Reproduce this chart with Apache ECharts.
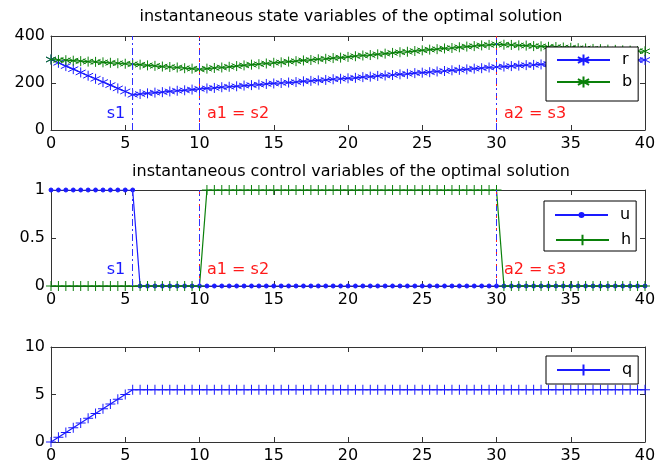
<!DOCTYPE html>
<html><head><meta charset="utf-8">
<script src="https://cdn.jsdelivr.net/npm/echarts@6/dist/echarts.min.js"></script>
<style>html,body{margin:0;background:#fff}#c{width:664px;height:470px}</style>
</head><body><div id="c"></div>
<script>
// ---- data ----
const t = [0,0.5,1,1.5,2,2.5,3,3.5,4,4.5,5,5.5,6,6.5,7,7.5,8,8.5,9,9.5,
  10,10.5,11,11.5,12,12.5,13,13.5,14,14.5,15,15.5,16,16.5,17,17.5,18,18.5,19,19.5,
  20,20.5,21,21.5,22,22.5,23,23.5,24,24.5,25,25.5,26,26.5,27,27.5,28,28.5,29,29.5,
  30,30.5,31,31.5,32,32.5,33,33.5,34,34.5,35,35.5,36,36.5,37,37.5,38,38.5,39,39.5,40];
const r = [300,286,272,259,245,231,218,204,191,177,164,150,153,156,159,161,164,167,169,172,
  175,177,179,182,184,186,189,191,193,196,198,200,202,204,207,209,211,213,216,218,
  220,222,225,227,230,232,234,237,239,242,244,246,249,251,254,256,258,261,263,266,
  268,270,272,274,276,277,279,281,282,284,285,287,288,290,291,292,294,295,296,297,298];
const b = [300,298,297,295,293,291,290,288,286,284,282,280,278,275,273,270,268,266,263,261,
  258,261,264,266,269,272,275,278,280,283,286,288,291,293,296,298,301,303,306,308,
  311,314,317,319,322,325,328,331,333,336,339,342,344,347,349,352,355,357,360,362,
  365,363,362,360,359,357,356,354,353,351,350,348,347,345,344,342,341,339,338,336,335];
const u = [1,1,1,1,1,1,1,1,1,1,1,1,0,0,0,0,0,0,0,0,
  0,0,0,0,0,0,0,0,0,0,0,0,0,0,0,0,0,0,0,0,
  0,0,0,0,0,0,0,0,0,0,0,0,0,0,0,0,0,0,0,0,
  0,0,0,0,0,0,0,0,0,0,0,0,0,0,0,0,0,0,0,0,0];
const h = [0,0,0,0,0,0,0,0,0,0,0,0,0,0,0,0,0,0,0,0,
  0,1,1,1,1,1,1,1,1,1,1,1,1,1,1,1,1,1,1,1,
  1,1,1,1,1,1,1,1,1,1,1,1,1,1,1,1,1,1,1,1,
  1,0,0,0,0,0,0,0,0,0,0,0,0,0,0,0,0,0,0,0,0];
const q = [0,0.5,1,1.5,2,2.5,3,3.5,4,4.5,5,5.5,5.5,5.5,5.5,5.5,5.5,5.5,5.5,5.5,
  5.5,5.5,5.5,5.5,5.5,5.5,5.5,5.5,5.5,5.5,5.5,5.5,5.5,5.5,5.5,5.5,5.5,5.5,5.5,5.5,
  5.5,5.5,5.5,5.5,5.5,5.5,5.5,5.5,5.5,5.5,5.5,5.5,5.5,5.5,5.5,5.5,5.5,5.5,5.5,5.5,
  5.5,5.5,5.5,5.5,5.5,5.5,5.5,5.5,5.5,5.5,5.5,5.5,5.5,5.5,5.5,5.5,5.5,5.5,5.5,5.5,5.5];
const eventT = [5.5, 10, 30];
const eventLabels = ['s1', 'a1 = s2', 'a2 = s3'];
const eventLabelColors = ['#1a1aff', '#ff1a1a', '#ff1a1a'];
const redOverlayT = [10, 30];
const titles = ['instantaneous state variables of the optimal solution',
                'instantaneous control variables of the optimal solution'];
const xTicks = {min: 0, max: 40, interval: 5};
const yTicks = [{min: 0, max: 400, interval: 200}, {min: 0, max: 1, interval: 0.5}, {min: 0, max: 10, interval: 5}];

// ---- chart ----
const FONT = 'DejaVu Sans';
const BLUE = '#1a1aff', GREEN = '#0a800a';
const AST = 'path://M0,-1L0,1M-0.866,-0.5L0.866,0.5M-0.866,0.5L0.866,-0.5';
const PLUS = 'path://M0,-1L0,1M-1,0L1,0';
const pts = ys => t.map((x, i) => [x, ys[i]]);

const grids = [
  {left: 51, right: 19, top: 36, height: 94},
  {left: 51, right: 19, top: 190, height: 96},
  {left: 51, right: 19, top: 347, height: 95}
];
const axisLine = {show: true, onZero: false, lineStyle: {color: '#333', width: 1}};
const axisTick = {show: true, inside: true, length: 5, lineStyle: {color: '#333'}};
const xAxes = [], yAxes = [];
grids.forEach((g, gi) => {
  xAxes.push({type: 'value', gridIndex: gi, position: 'bottom', ...xTicks, axisLine, axisTick,
    axisLabel: {color: '#000', fontSize: 16, fontFamily: FONT, margin: 6}, splitLine: {show: false}});
  xAxes.push({type: 'value', gridIndex: gi, position: 'top', ...xTicks, axisLine, axisTick,
    axisLabel: {show: false}, splitLine: {show: false}});
  yAxes.push({type: 'value', gridIndex: gi, position: 'left', ...yTicks[gi], axisLine, axisTick,
    axisLabel: {color: '#000', fontSize: 16, fontFamily: FONT, margin: 6}, splitLine: {show: false}});
  yAxes.push({type: 'value', gridIndex: gi, position: 'right', ...yTicks[gi], axisLine, axisTick,
    axisLabel: {show: false}, splitLine: {show: false}});
});

function vlines() {
  const dash = {type: [7, 3, 2, 3], width: 1};
  return {
    silent: true, symbol: ['none', 'none'], label: {show: false},
    data: eventT.map(x => ({xAxis: x, lineStyle: {...dash, color: '#3030ff'}}))
      .concat(redOverlayT.map(x => ({xAxis: x, lineStyle: {type: [2, 10], dashOffset: 4, width: 1, color: '#ff2020'}})))
  };
}
function vlabels(y) {
  return {
    silent: true, symbol: 'circle', symbolSize: 1,
    data: eventT.map((x, i) => ({
      coord: [x, y], itemStyle: {color: 'rgba(0,0,0,0)'},
      label: {show: true, formatter: eventLabels[i], position: i === 0 ? 'left' : 'right', distance: 7,
        color: eventLabelColors[i], fontSize: 16, fontFamily: FONT}
    }))
  };
}
function ser(name, data, color, symbol, size, xi, yi, extra) {
  return Object.assign({
    name, type: 'line', xAxisIndex: xi, yAxisIndex: yi, data: pts(data), color,
    symbol, symbolSize: size, showAllSymbol: true,
    itemStyle: {color, borderColor: color, borderWidth: 1},
    lineStyle: {color, width: 1.2}, emphasis: {disabled: true}
  }, extra || {});
}

const legendBase = {
  orient: 'vertical', itemWidth: 53, itemHeight: 14, z: 10,
  borderColor: '#000', borderWidth: 1, backgroundColor: '#fff', borderRadius: 0,
  textStyle: {color: '#000', fontSize: 16, fontFamily: FONT, padding: [0, 0, 0, 7]}
};
const titleStyle = {fontSize: 16, fontWeight: 'normal', color: '#000', fontFamily: FONT};

const option = {
  animation: false,
  backgroundColor: '#fff',
  title: [
    {text: titles[0], left: 346, top: 4, textAlign: 'center', textStyle: titleStyle},
    {text: titles[1], left: 346, top: 159, textAlign: 'center', textStyle: titleStyle}
  ],
  grid: grids,
  xAxis: xAxes,
  yAxis: yAxes,
  legend: [
    {...legendBase, data: ['r', 'b'], left: 546, top: 47, itemGap: 6, padding: [5, 6, 11, 10]},
    // middle box: 'u' legend carries the frame, 'h' sits inside it
    {...legendBase, data: ['u'], itemHeight: 5, left: 544, top: 201, padding: [6, 6, 28, 10]},
    {...legendBase, data: ['h'], itemHeight: 13, left: 545, top: 232, padding: [0, 6, 0, 10],
      borderWidth: 0, backgroundColor: 'rgba(0,0,0,0)', z: 11},
    {...legendBase, data: ['q'], left: 546, top: 356, padding: [6, 6, 6, 10]}
  ],
  series: [
    ser('r', r, BLUE, AST, 10, 0, 0, {markLine: vlines(), markPoint: vlabels(68)}),
    ser('b', b, GREEN, AST, 10, 0, 0),
    ser('u', u, BLUE, 'circle', 4, 2, 2, {markLine: vlines(), markPoint: vlabels(0.17)}),
    ser('h', h, GREEN, PLUS, 10, 2, 2),
    ser('q', q, BLUE, PLUS, 10, 4, 4)
  ]
};
echarts.init(document.getElementById('c')).setOption(option);
</script></body></html>
